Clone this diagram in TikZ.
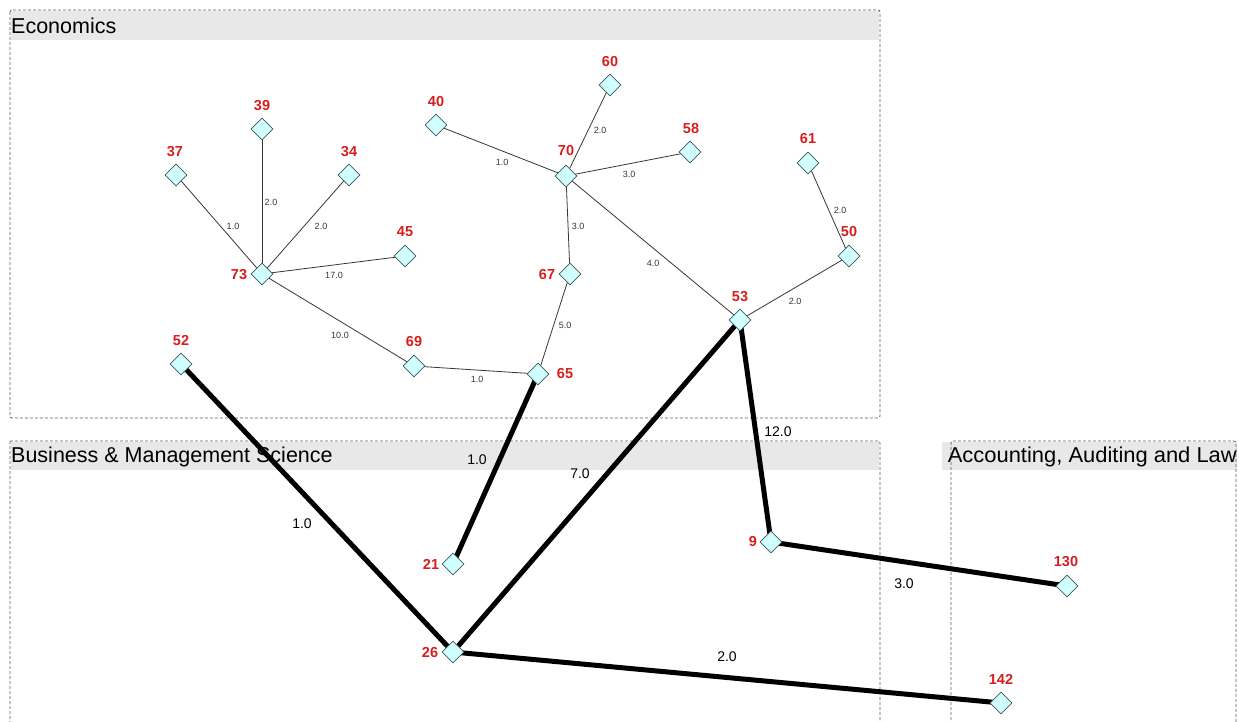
\documentclass[tikz,border=0pt]{standalone}
\usepackage{fontspec}
\setmainfont{Liberation Sans}
\usetikzlibrary{shapes.geometric}
\definecolor{nodefill}{RGB}{208,255,255}
\definecolor{nodeedge}{RGB}{70,90,90}
\definecolor{lblred}{RGB}{215,30,30}
\definecolor{band}{RGB}{232,232,232}
\definecolor{boxline}{RGB}{95,95,95}
\definecolor{thin}{RGB}{55,55,55}
\tikzset{
  vert/.style={diamond, draw=nodeedge, fill=nodefill, line width=0.8pt, inner sep=0pt, minimum width=21pt, minimum height=21pt},
  lbl/.style={text=lblred, font=\fontsize{14.5}{16}\selectfont\bfseries, inner sep=0pt},
  thinedge/.style={draw=thin, line width=0.8pt},
  thickedge/.style={draw=black, line width=5pt},
  tlbl/.style={text=thin, font=\fontsize{9}{10}\selectfont, inner sep=0pt},
  blbl/.style={text=black, font=\fontsize{14}{16}\selectfont, inner sep=0pt},
  groupbox/.style={draw=boxline, dash pattern=on 3pt off 2pt, line width=0.8pt, rounded corners=2pt},
  headtxt/.style={font=\fontsize{21.5}{24}\selectfont, inner sep=0pt, text=black},
}
\begin{document}
\begin{tikzpicture}[x=1pt,y=-1pt]
\useasboundingbox (0,0) rectangle (1239,722);
\fill[white] (0,0) rectangle (1239,722);
% groups
\fill[band] (11,11) rectangle (879,40);
\draw[groupbox] (10,10) rectangle (880,418);
\node[headtxt, anchor=west] (hEco) at (11,26) {Economics};
\fill[band] (11,442) rectangle (879,470);
\draw[groupbox] (10,441) -- (10,730) (10,441) -- (880,441) -- (880,730);
\node[headtxt, anchor=west] (hBus) at (11,457) {Business \& Management Science};
\fill[band] (942,442) rectangle (1237,470);
\draw[groupbox] (951,730) -- (951,441) -- (1236,441) -- (1236,730);
\node[headtxt, anchor=east, xscale=1.02] (hAcc) at (1237,457) {Accounting, Auditing and Law};
% vertices
\node[vert] (n39) at (262,129) {};
\node[vert] (n37) at (176,175) {};
\node[vert] (n34) at (349,175) {};
\node[vert] (n45) at (405,256) {};
\node[vert] (n73) at (262,274) {};
\node[vert] (n52) at (181,364) {};
\node[vert] (n69) at (414,366) {};
\node[vert] (n65) at (538,374) {};
\node[vert] (n67) at (570,274) {};
\node[vert] (n70) at (566,176) {};
\node[vert] (n40) at (436,125) {};
\node[vert] (n60) at (610,85) {};
\node[vert] (n58) at (690,152) {};
\node[vert] (n61) at (808,163) {};
\node[vert] (n50) at (849,256) {};
\node[vert] (n53) at (740,320) {};
\node[vert] (n21) at (453,564) {};
\node[vert] (n26) at (453,652) {};
\node[vert] (n9) at (771,542) {};
\node[vert] (n130) at (1067,586) {};
\node[vert] (n142) at (1001,703) {};
% thin edges
\path[thinedge] (n37.center) -- (n73.center);
\path[thinedge] (n39.center) -- (n73.center);
\path[thinedge] (n34.center) -- (n73.center);
\path[thinedge] (n45.center) -- (n73.center);
\path[thinedge] (n73.center) -- (n69.center);
\path[thinedge] (n69.center) -- (n65.center);
\path[thinedge] (n67.center) -- (n65.center);
\path[thinedge] (n70.center) -- (n67.center);
\path[thinedge] (n40.center) -- (n70.center);
\path[thinedge] (n60.center) -- (n70.center);
\path[thinedge] (n58.center) -- (n70.center);
\path[thinedge] (n70.center) -- (n53.center);
\path[thinedge] (n61.center) -- (n50.center);
\path[thinedge] (n53.center) -- (n50.center);
% thick edges
\path[thickedge] (n52.center) -- (n26.center);
\path[thickedge] (n65.center) -- (n21.center);
\path[thickedge] (n53.center) -- (n26.center);
\path[thickedge] (n53.center) -- (n9.center);
\path[thickedge] (n9.center) -- (n130.center);
\path[thickedge] (n26.center) -- (n142.center);
% redraw vertices on top of connectors
\foreach \n in {n39,n37,n34,n45,n73,n52,n69,n65,n67,n70,n40,n60,n58,n61,n50,n53,n21,n26,n9,n130,n142}{
  \path[fill=nodefill, draw=nodeedge, line width=0.8pt] (\n.north) -- (\n.east) -- (\n.south) -- (\n.west) -- cycle;
}
% vertex labels
\node[lbl] (l39) at (262,106) {39};
\node[lbl] (l37) at (175,152) {37};
\node[lbl] (l34) at (349,152) {34};
\node[lbl] (l45) at (405,232) {45};
\node[lbl] (l73) at (239,275) {73};
\node[lbl] (l52) at (181,341) {52};
\node[lbl] (l69) at (414,342) {69};
\node[lbl] (l65) at (565,374) {65};
\node[lbl] (l67) at (547,275) {67};
\node[lbl] (l70) at (566,151) {70};
\node[lbl] (l40) at (436,102) {40};
\node[lbl] (l60) at (610,62) {60};
\node[lbl] (l58) at (691,129) {58};
\node[lbl] (l61) at (808,139) {61};
\node[lbl] (l50) at (849,232) {50};
\node[lbl] (l53) at (740,297) {53};
\node[lbl] (l21) at (431,564) {21};
\node[lbl] (l26) at (430,653) {26};
\node[lbl] (l9) at (753,542) {9};
\node[lbl] (l130) at (1066,562) {130};
\node[lbl] (l142) at (1001,679) {142};
% thin edge labels
\node[tlbl] (e1) at (233,226) {1.0};
\node[tlbl] (e2) at (271,202) {2.0};
\node[tlbl] (e3) at (321,226) {2.0};
\node[tlbl] (e4) at (334,275) {17.0};
\node[tlbl] (e5) at (340,335) {10.0};
\node[tlbl] (e6) at (477,379) {1.0};
\node[tlbl] (e7) at (565,325) {5.0};
\node[tlbl] (e8) at (578,226) {3.0};
\node[tlbl] (e9) at (502,162) {1.0};
\node[tlbl] (e10) at (600,130) {2.0};
\node[tlbl] (e11) at (629,174) {3.0};
\node[tlbl] (e12) at (653,263) {4.0};
\node[tlbl] (e13) at (840,210) {2.0};
\node[tlbl] (e14) at (795,301) {2.0};
% thick edge labels
\node[blbl] (b1) at (302,524) {1.0};
\node[blbl] (b2) at (477,460) {1.0};
\node[blbl] (b3) at (580,474) {7.0};
\node[blbl] (b4) at (778,432) {12.0};
\node[blbl] (b5) at (904,584) {3.0};
\node[blbl] (b6) at (727,657) {2.0};
\end{tikzpicture}
\end{document}
